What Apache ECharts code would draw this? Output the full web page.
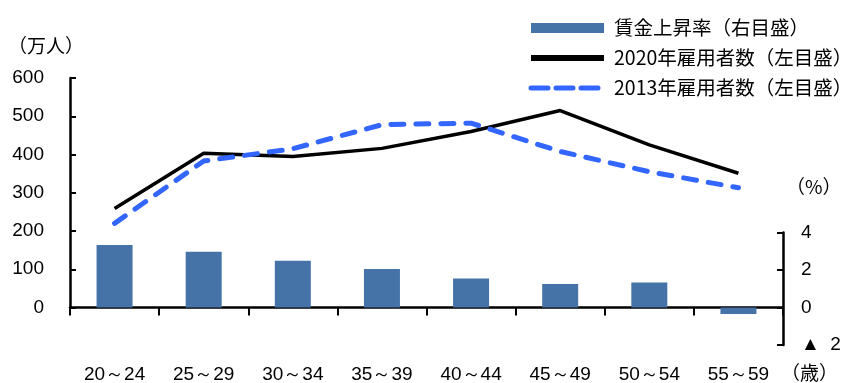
<!DOCTYPE html>
<html>
<head>
<meta charset="utf-8">
<script src="https://cdn.jsdelivr.net/npm/echarts@6/dist/echarts.min.js"></script>
<style>
  html, body { margin: 0; padding: 0; background: #fff; }
  #chart { width: 854px; height: 383px; }
</style>
</head>
<body>
<div id="chart"></div>
<script>
// Age brackets on the horizontal axis
const ageGroups = ['20～24', '25～29', '30～34', '35～39', '40～44', '45～49', '50～54', '55～59'];
// Wage growth rate, % (right scale)
const wageGrowth = [3.34, 2.97, 2.49, 2.05, 1.55, 1.25, 1.33, -0.35];
// Employees, 10k persons (left scale)
const employed2020 = [259, 403, 395, 416, 460, 515, 425, 351];
const employed2013 = [220, 383, 415, 478, 482, 408, 355, 313];

const seriesNames = ['賃金上昇率（右目盛）', '2020年雇用者数（左目盛）', '2013年雇用者数（左目盛）'];

const numFont = 'Liberation Sans, Arial, sans-serif';
const jpFont = '"Noto Sans CJK JP", sans-serif';
const barColor = '#4673a7';
const blue = '#3366ff';
const hiddenMarker = { color: 'transparent', borderWidth: 0, opacity: 0 };

const chart = echarts.init(document.getElementById('chart'), null, { renderer: 'canvas' });

chart.setOption({
  backgroundColor: '#ffffff',
  animation: false,
  grid: [
    { left: 70, right: 71, top: 78, height: 229.5, outerBoundsMode: 'none', containLabel: false },
    { left: 70, right: 71, top: 232.5, height: 112.5, outerBoundsMode: 'none', containLabel: false }
  ],
  legend: {
    orient: 'vertical',
    left: 528,
    top: 18,
    padding: 0,
    itemWidth: 73,
    itemHeight: 10,
    itemGap: 10,
    textStyle: { fontSize: 19.5, fontFamily: jpFont, color: '#000', lineHeight: 20, padding: [0, 0, 0, 5] },
    data: [
      { name: seriesNames[0], icon: 'rect' },
      { name: seriesNames[1], lineStyle: { width: 6 }, itemStyle: hiddenMarker },
      { name: seriesNames[2], lineStyle: { width: 5, type: [17, 8], cap: 'round' }, itemStyle: hiddenMarker }
    ]
  },
  xAxis: [
    { gridIndex: 0, type: 'category', data: ageGroups, show: false },
    {
      gridIndex: 1,
      type: 'category',
      data: ageGroups,
      axisLine: { onZero: true, lineStyle: { color: '#000', width: 2.5 } },
      axisTick: { show: true, inside: false, length: 8, interval: 0, lineStyle: { color: '#000', width: 2 } },
      axisLabel: { interval: 0, margin: 20, fontSize: 19, fontFamily: numFont, color: '#000' },
      splitLine: { show: false }
    }
  ],
  yAxis: [
    {
      gridIndex: 0,
      type: 'value',
      min: 0,
      max: 600,
      interval: 100,
      axisLine: { show: true, lineStyle: { color: '#000', width: 2.5 } },
      axisTick: { show: true, inside: true, length: 6, lineStyle: { color: '#000', width: 2 } },
      axisLabel: { margin: 26, fontSize: 19, fontFamily: numFont, color: '#000' },
      splitLine: { show: false }
    },
    {
      gridIndex: 1,
      type: 'value',
      position: 'right',
      min: -2,
      max: 4,
      interval: 2,
      axisLine: { show: true, lineStyle: { color: '#000', width: 2.5 } },
      axisTick: { show: true, inside: true, length: 6, lineStyle: { color: '#000', width: 2 } },
      axisLabel: {
        margin: 18, fontSize: 19, fontFamily: numFont, color: '#000',
        formatter: v => (v < 0 ? '▲  ' + Math.abs(v) : String(v))
      },
      splitLine: { show: false }
    }
  ],
  series: [
    {
      name: seriesNames[0],
      type: 'bar',
      xAxisIndex: 1,
      yAxisIndex: 1,
      data: wageGrowth,
      barWidth: 36,
      itemStyle: { color: barColor }
    },
    {
      name: seriesNames[1],
      type: 'line',
      xAxisIndex: 0,
      yAxisIndex: 0,
      data: employed2020,
      symbol: 'none',
      lineStyle: { color: '#000', width: 3.5 },
      itemStyle: { color: '#000' }
    },
    {
      name: seriesNames[2],
      type: 'line',
      xAxisIndex: 0,
      yAxisIndex: 0,
      data: employed2013,
      symbol: 'none',
      lineStyle: { color: blue, width: 5, type: [13, 12], cap: 'round' },
      itemStyle: { color: blue }
    }
  ],
  graphic: [
    { type: 'text', left: 8, top: 36, style: { text: '（万人）', font: '19px ' + jpFont, fill: '#000' } },
    { type: 'text', left: 786, top: 177, style: { text: '（%）', font: '19px ' + jpFont, fill: '#000' } },
    { type: 'text', left: 781, top: 363, style: { text: '（歳）', font: '19px ' + jpFont, fill: '#000' } }
  ]
});
</script>
</body>
</html>
